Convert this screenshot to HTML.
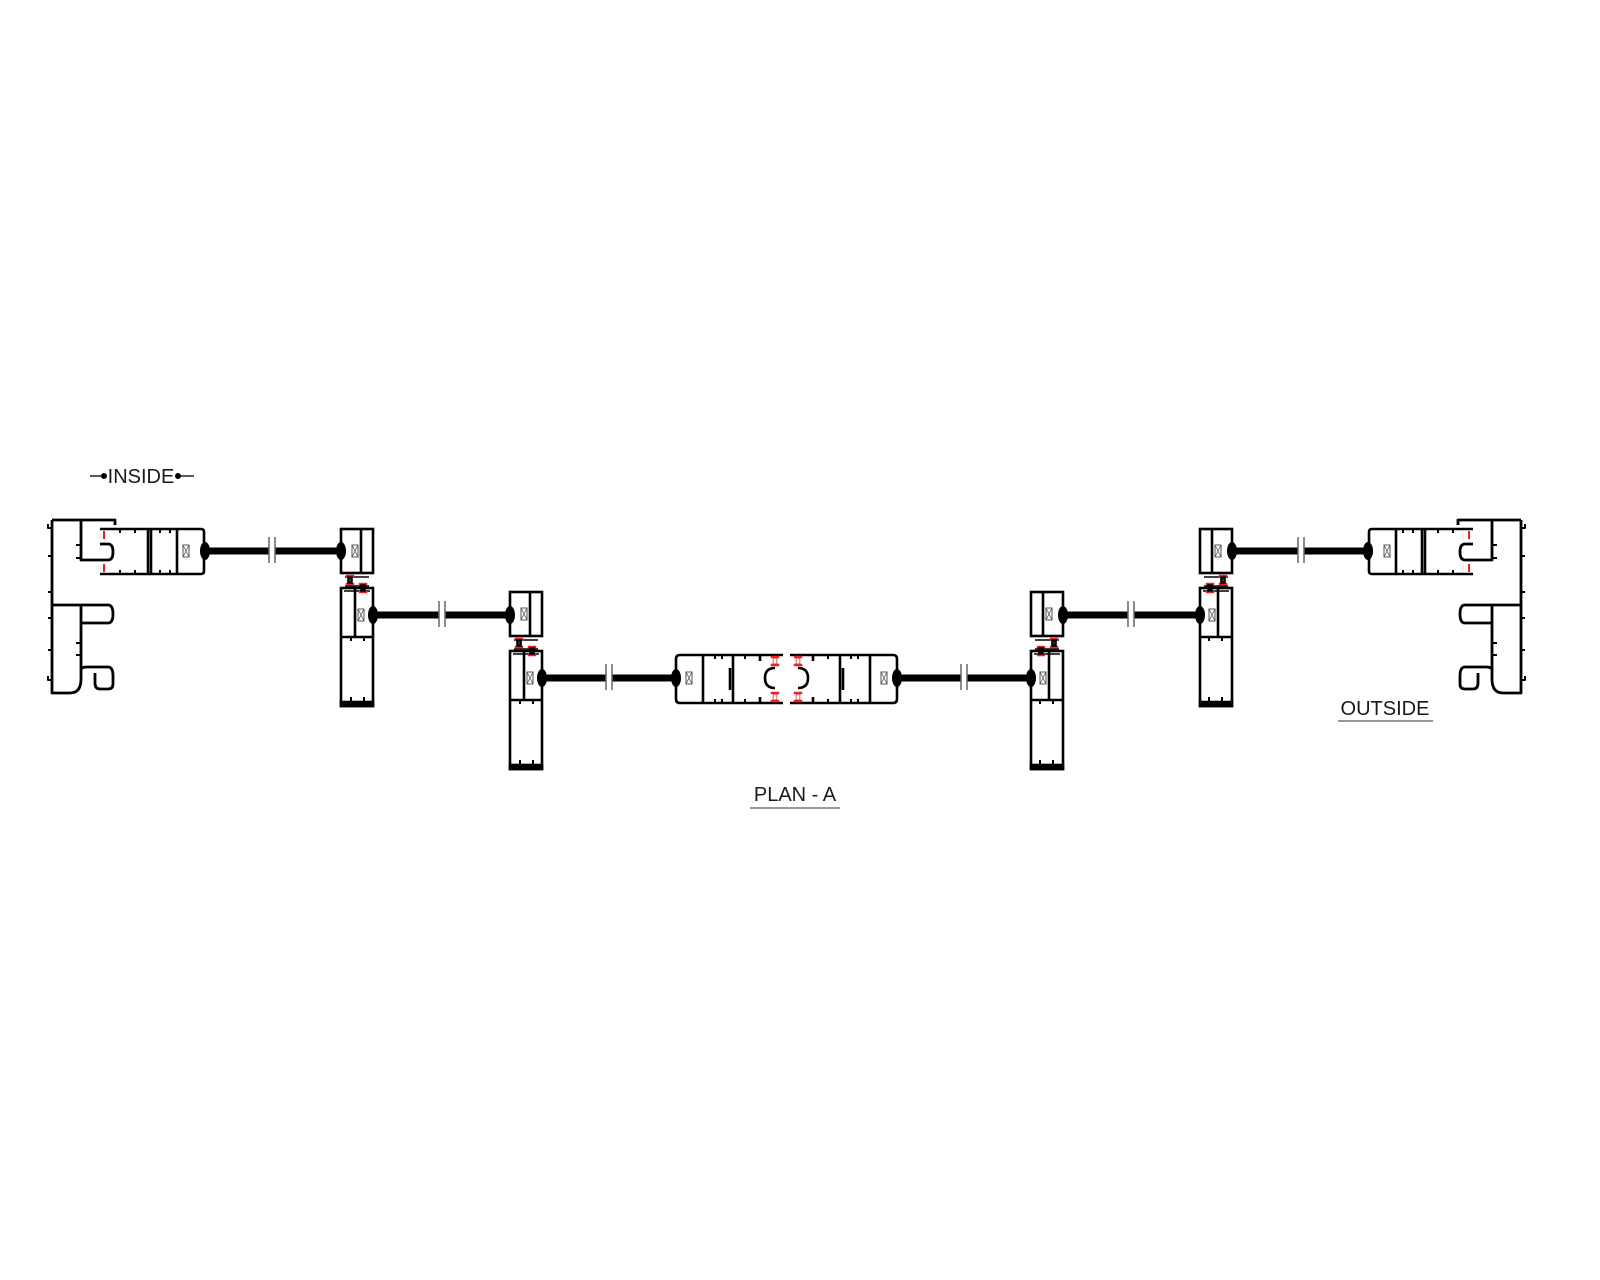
<!DOCTYPE html>
<html><head><meta charset="utf-8"><style>
html,body{margin:0;padding:0;background:#fff;}
svg{display:block;}
text{font-family:"Liberation Sans",sans-serif;fill:#1a1a1a;}
</style></head><body>
<svg width="1600" height="1280" viewBox="0 0 1600 1280" xmlns="http://www.w3.org/2000/svg">
<defs>
<g id="gsk">
 <path d="M-4,0h8v2h-2v6h2v2h-8v-2h2v-6h-2z" fill="#e22" stroke="#e22" stroke-width="0.5"/>
 <path d="M-1.5,2.5h3v5h-3z" fill="#fff"/>
</g>
<g id="xr">
 <rect x="0" y="0" width="6" height="12" fill="#fff" stroke="#555" stroke-width="1"/>
 <path d="M0,0L6,12M6,0L0,12" stroke="#555" stroke-width="0.8"/>
</g>
<g id="mul" fill="none" stroke="#000" stroke-width="2.6">
 <rect x="0" y="0" width="32" height="44"/>
 <line x1="20" y1="0" x2="20" y2="44"/>
 <use href="#xr" x="11" y="16"/>
 <path d="M4,48h24M4,57h24M3,62h26" stroke-width="1.5"/>
 <use href="#gsk" x="9" y="46"/>
 <use href="#gsk" x="22" y="54"/>
 <rect x="0" y="59" width="32" height="118"/>
 <line x1="14" y1="59" x2="14" y2="108"/>
 <line x1="0" y1="108" x2="32" y2="108"/>
 <use href="#xr" x="17" y="80"/>
 <path d="M10,108v4M23,108v4M10,172v-4M23,172v-4" stroke-width="2"/>
 <rect x="0" y="173" width="32" height="4" fill="#000"/>
</g>
<g id="half">
 <!-- frame -->
 <g fill="none" stroke="#000" stroke-width="2.8" stroke-linejoin="round">
  <path d="M52,520H115v5"/>
  <path d="M52,520V693H70q11,0 11,-14V605"/>
  <path d="M81,520V560H97"/>
  <path d="M52,605H81"/>
  <path d="M81,605H108q5,0 5,9q0,9 -5,9H81"/>
  <path d="M81,670q0,-3 6,-3H108q5,0 5,9v8q0,5 -5,5H100q-5,0 -5,-6v-10"/>
  <path d="M100,544H108q5,0 5,8q0,8 -5,8H97"/>
  <path d="M52,528h-4v-4M52,556h-4M52,592h-4M52,618h-4M52,650h-4M52,680h-4v-4" stroke-width="2"/>
  <path d="M81,545h-5M81,558h-5M81,643h-5M81,655h-5" stroke-width="2"/>
 </g>
 <!-- sash 1 -->
 <g fill="none" stroke="#000" stroke-width="2.6">
  <path d="M100,529H201q3,0 3,3V571q0,3 -3,3H100"/>
  <path d="M148,529V574M151,529V574M177,529V574"/>
  <path d="M120,529v4M135,529v4M120,574v-4M135,574v-4M160,529v4M170,529v4M160,574v-4M170,574v-4" stroke-width="2"/>
 </g>
 <use href="#xr" x="183" y="545"/>
 <path d="M104,531v8M104,564v8" stroke="#e22" stroke-width="2"/>
 <!-- mullions -->
 <use href="#mul" x="341" y="529"/>
 <use href="#mul" x="510" y="592"/>
 <!-- glass 1 -->
 <g stroke="#000" stroke-width="7">
  <line x1="204" y1="551" x2="341" y2="551"/>
  <line x1="373" y1="615" x2="510" y2="615"/>
  <line x1="542" y1="678" x2="676" y2="678"/>
 </g>
 <g fill="#000">
  <ellipse cx="205" cy="551" rx="5" ry="9"/><ellipse cx="341" cy="551" rx="5" ry="9"/>
  <ellipse cx="373" cy="615" rx="5" ry="9"/><ellipse cx="510" cy="615" rx="5" ry="9"/>
  <ellipse cx="542" cy="678" rx="5" ry="9"/><ellipse cx="676" cy="678" rx="5" ry="9"/>
 </g>
 <g stroke="#fff" stroke-width="5">
  <line x1="272" y1="545" x2="272" y2="557"/>
  <line x1="442" y1="609" x2="442" y2="621"/>
  <line x1="609" y1="672" x2="609" y2="684"/>
 </g>
 <g stroke="#666" stroke-width="1.5">
  <path d="M269,537v26M275,537v26M439,601v26M445,601v26M606,664v26M612,664v26"/>
 </g>
 <!-- center half -->
 <g fill="none" stroke="#000" stroke-width="2.6" stroke-linejoin="round">
  <path d="M783,655H680q-4,0 -4,4V699q0,4 4,4H783"/>
  <path d="M703,655V703M733,655V703M730,668V690M760,655v6M760,703v-6"/>
  <path d="M775,668q-10,0 -10,10q0,10 10,10"/>
  <path d="M715,655v4M722,655v4M715,703v-4M722,703v-4M745,655v4M745,703v-4" stroke-width="2"/>
 </g>
 <use href="#xr" x="686" y="672"/>
 <use href="#gsk" x="775" y="656"/>
 <use href="#gsk" x="775" y="692"/>
</g>
</defs>
<use href="#half"/>
<use href="#half" transform="translate(1573,0) scale(-1,1)"/>

<!-- labels -->
<g stroke="#000" stroke-width="1.3">
 <line x1="90" y1="476" x2="104" y2="476"/>
 <line x1="178" y1="476" x2="194" y2="476"/>
</g>
<circle cx="104" cy="476" r="3" fill="#000"/>
<circle cx="178" cy="476" r="3" fill="#000"/>
<text x="141" y="483" font-size="20" text-anchor="middle">INSIDE</text>

<text x="1385" y="715" font-size="20" text-anchor="middle">OUTSIDE</text>
<line x1="1338" y1="721" x2="1433" y2="721" stroke="#777" stroke-width="1.5"/>

<text x="795" y="801" font-size="20" text-anchor="middle">PLAN - A</text>
<line x1="750" y1="808" x2="840" y2="808" stroke="#777" stroke-width="1.5"/>
</svg>
</body></html>
